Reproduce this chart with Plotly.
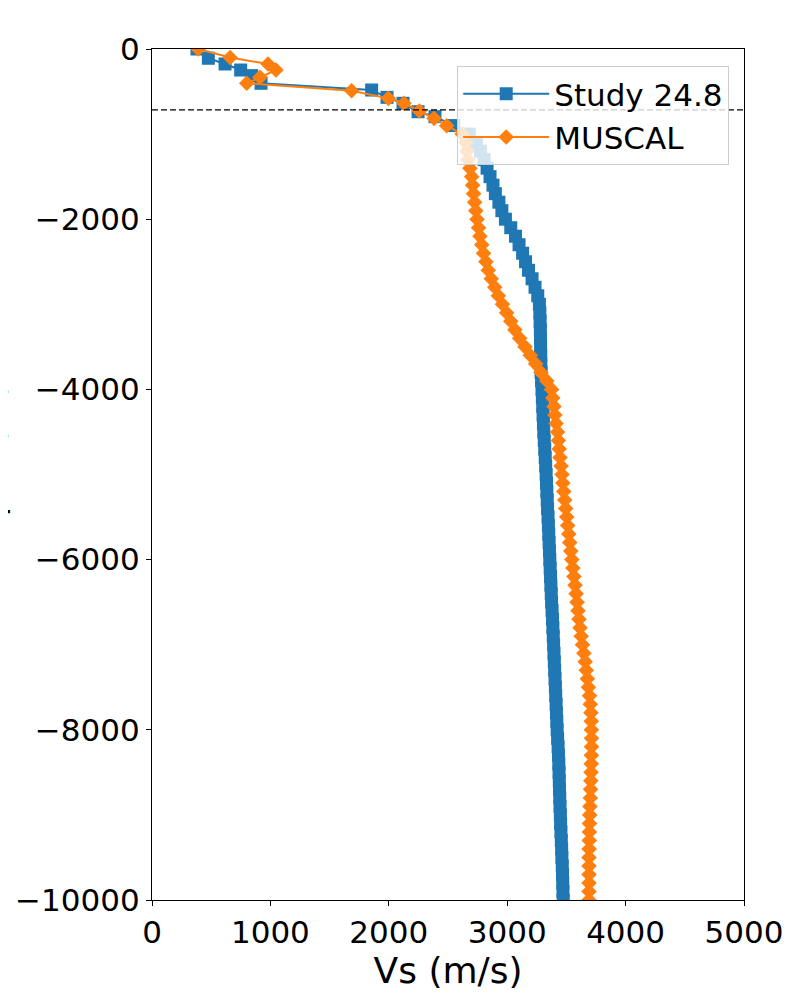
import plotly.graph_objects as go

# shallow layers
study_vs_top = [380, 476, 617, 749, 842, 921, 1855, 1985, 2120, 2247, 2390]
study_z_top = [0, -109, -176, -247, -313, -403, -482, -568, -638, -737, -795]
muscal_vs_top = [390, 660, 980, 1047, 912, 800, 1686, 1996, 2128, 2258, 2382, 2489]
muscal_z_top = [0, -100, -176, -247, -333, -403, -490, -580, -638, -729, -815, -901]

# deeper part, sampled every 100 m
depth_deep = [
    -900, -1000, -1100, -1200, -1300, -1400, -1500, -1600, -1700, -1800, -1900,
    -2000, -2100, -2200, -2300, -2400, -2500, -2600, -2700, -2800, -2900,
    -3000, -3100, -3200, -3300, -3400, -3500, -3600, -3700, -3800, -3900,
    -4000, -4100, -4200, -4300, -4400, -4500, -4600, -4700, -4800, -4900,
    -5000, -5100, -5200, -5300, -5400, -5500, -5600, -5700, -5800, -5900,
    -6000, -6100, -6200, -6300, -6400, -6500, -6600, -6700, -6800, -6900,
    -7000, -7100, -7200, -7300, -7400, -7500, -7600, -7700, -7800, -7900,
    -8000, -8100, -8200, -8300, -8400, -8500, -8600, -8700, -8800, -8900,
    -9000, -9100, -9200, -9300, -9400, -9500, -9600, -9700, -9800, -9900,
    -10000,
]
study_vs_deep = [
    2550, 2680, 2740, 2775, 2805, 2830, 2855, 2880, 2900, 2930, 2955,
    2985, 3030, 3070, 3100, 3130, 3155, 3180, 3210, 3235, 3258,
    3272, 3276, 3278, 3280, 3281, 3282, 3283, 3284, 3286, 3290,
    3294, 3297, 3300, 3303, 3306, 3309, 3313, 3317, 3321, 3325,
    3329, 3332, 3335, 3338, 3341, 3345, 3348, 3351, 3354, 3357,
    3360, 3363, 3366, 3369, 3372, 3375, 3379, 3383, 3386, 3389,
    3392, 3395, 3398, 3401, 3404, 3407, 3410, 3413, 3416, 3419,
    3422, 3426, 3430, 3433, 3436, 3438, 3440, 3442, 3444, 3446,
    3449, 3451, 3454, 3457, 3460, 3462, 3465, 3467, 3469, 3471,
    3473,
]
muscal_vs_deep = [
    None, 2620, 2650, 2660, 2668, 2685, 2700, 2708, 2716, 2725, 2735,
    2745, 2758, 2770, 2785, 2800, 2820, 2840, 2865, 2895, 2925,
    2960, 2995, 3030, 3065, 3105, 3150, 3195, 3240, 3285, 3335,
    3375, 3385, 3395, 3403, 3413, 3425, 3432, 3439, 3446, 3455,
    3463, 3470, 3478, 3486, 3494, 3503, 3511, 3520, 3528, 3537,
    3546, 3555, 3564, 3573, 3582, 3590, 3598, 3606, 3615, 3625,
    3636, 3648, 3659, 3668, 3677, 3686, 3695, 3702, 3707, 3710,
    3711, 3712, 3712, 3711, 3710, 3708, 3706, 3704, 3702, 3699,
    3697, 3695, 3694, 3693, 3692, 3691, 3691, 3691, 3691, 3691,
    3691,
]
water_depth = -715

blue = "#1f77b4"
orange = "#ff7f0e"


def join(vs_top, z_top, vs_deep, z_deep):
    vs, z = list(vs_top), list(z_top)
    for v, d in zip(vs_deep, z_deep):
        if v is not None:
            vs.append(v)
            z.append(d)
    return vs, z


study_vs, study_z = join(study_vs_top, study_z_top, study_vs_deep, depth_deep)
muscal_vs, muscal_z = join(muscal_vs_top, muscal_z_top, muscal_vs_deep, depth_deep)

fig = go.Figure()
fig.add_trace(go.Scatter(
    x=study_vs, y=study_z, name="Study 24.8", mode="lines+markers",
    line=dict(color=blue, width=2),
    marker=dict(symbol="square", size=13, color=blue),
))
fig.add_trace(go.Scatter(
    x=muscal_vs, y=muscal_z, name="MUSCAL", mode="lines+markers",
    line=dict(color=orange, width=2),
    marker=dict(symbol="diamond", size=12, color=orange),
))
fig.add_shape(type="line", xref="paper", x0=0, x1=1, y0=water_depth, y1=water_depth,
              line=dict(color="black", width=1.2, dash="6px,3px"))

axis = dict(showline=True, linecolor="black", linewidth=1.2, mirror=True,
            ticks="outside", ticklen=5, tickcolor="black", showgrid=False,
            zeroline=False, automargin=False, tickfont=dict(size=31, color="black"))
fig.update_xaxes(range=[0, 5000], dtick=1000, **axis,
                 title=dict(text="Vs (m/s)", font=dict(size=36, color="black"), standoff=2))
fig.update_yaxes(range=[-10000, 0], dtick=2000, tickformat="d", **axis)

# y label sits mostly off the left edge, as in the source image
fig.add_annotation(text="Depth (m)", xref="paper", yref="paper", x=-0.31, y=0.5,
                   textangle=-90, showarrow=False, font=dict(size=36, color="black"))

# page body adds 8px, so margins are shifted to land the axes at 152..744 x 49..900
fig.update_layout(
    width=800, height=1000,
    margin=dict(l=144, r=64, t=41, b=108),
    plot_bgcolor="white", paper_bgcolor="white",
    font=dict(family="DejaVu Sans", color="black"),
    legend=dict(x=0.975, y=0.98, xanchor="right", yanchor="top",
                bgcolor="rgba(255,255,255,0.8)", bordercolor="#cccccc", borderwidth=1,
                font=dict(size=31), itemwidth=86),
)

fig.write_html("out.html")
